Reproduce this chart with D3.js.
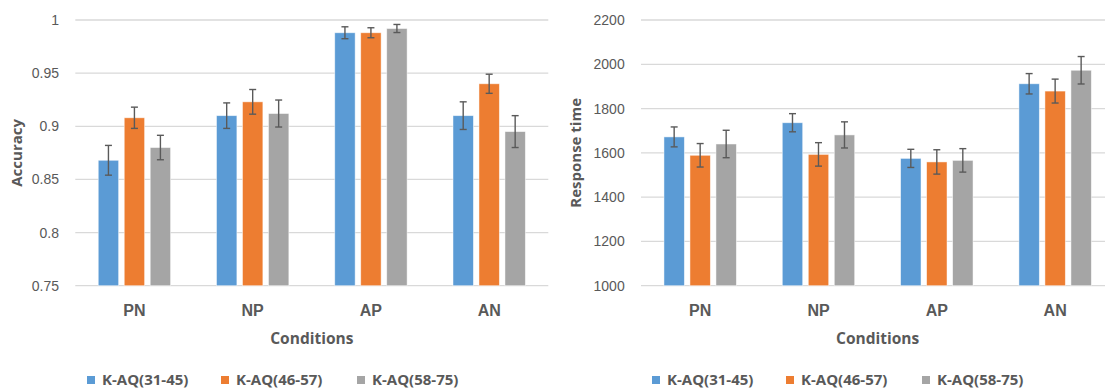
<!DOCTYPE html>
<html>
<head>
<meta charset="utf-8">
<script src="https://cdn.jsdelivr.net/npm/d3@7"></script>
<style>
  html, body { margin: 0; padding: 0; background: #fff; }
  svg { display: block; font-family: "Open Sans", "Noto Sans", sans-serif; }
</style>
</head>
<body>
<svg id="chart" width="1105" height="391"></svg>
<script>
// ---------- data ----------
const categories = ["PN", "NP", "AP", "AN"];
const seriesNames = ["K-AQ(31-45)", "K-AQ(46-57)", "K-AQ(58-75)"];
const seriesColors = ["#5B9BD5", "#ED7D31", "#A5A5A5"];

const accMean31 = [0.868, 0.910, 0.988, 0.910];
const accMean46 = [0.908, 0.923, 0.988, 0.940];
const accMean58 = [0.880, 0.912, 0.992, 0.895];
const accErr31 = [0.014, 0.012, 0.0056, 0.013];
const accErr46 = [0.010, 0.0116, 0.0047, 0.009];
const accErr58 = [0.0115, 0.0127, 0.0038, 0.015];

const rtMean31 = [1672, 1736, 1575, 1912];
const rtMean46 = [1589, 1593, 1559, 1879];
const rtMean58 = [1640, 1681, 1566, 1973];
const rtErr31 = [45, 41, 41, 46];
const rtErr46 = [53, 53, 55, 54];
const rtErr58 = [62, 59, 53, 62];

const accTicks = [0.75, 0.8, 0.85, 0.9, 0.95, 1];
const accTickLabels = ["0.75", "0.8", "0.85", "0.9", "0.95", "1"];
const rtTicks = [1000, 1200, 1400, 1600, 1800, 2000, 2200];
const rtTickLabels = ["1000", "1200", "1400", "1600", "1800", "2000", "2200"];

const accTitle = "Accuracy";
const rtTitle = "Response time";
const xTitle = "Conditions";

// ---------- layout ----------
const svg = d3.select("#chart");
const textColor = "#595959";
const gridColor = "#D9D9D9";
const yTop = 20, yBottom = 285.7;

const panels = [
  {
    means: [accMean31, accMean46, accMean58],
    errs: [accErr31, accErr46, accErr58],
    domain: [0.75, 1], ticks: accTicks, tickLabels: accTickLabels,
    x0: 75.3, x1: 548.3, yTitle: accTitle, yTitleX: 17,
    legendX: 87
  },
  {
    means: [rtMean31, rtMean46, rtMean58],
    errs: [rtErr31, rtErr46, rtErr58],
    domain: [1000, 2200], ticks: rtTicks, tickLabels: rtTickLabels,
    x0: 641, x1: 1114.3, yTitle: rtTitle, yTitleX: 576,
    legendX: 652
  }
];

panels.forEach(p => {
  const g = svg.append("g");
  const x = d3.scaleBand().domain(categories).range([p.x0, p.x1]).padding(0);
  const groupW = x.bandwidth() * 0.612;
  const xs = d3.scaleBand().domain(d3.range(seriesNames.length))
    .range([-groupW / 2, groupW / 2]).paddingInner(0.215).paddingOuter(0);
  const y = d3.scaleLinear().domain(p.domain).range([yBottom, yTop]);

  // gridlines
  g.append("g").selectAll("line").data(p.ticks).join("line")
    .attr("x1", p.x0).attr("x2", p.x1)
    .attr("y1", d => y(d)).attr("y2", d => y(d))
    .attr("stroke", gridColor).attr("stroke-width", 1.3);

  // y axis labels
  const yAxis = d3.axisLeft(y).tickValues(p.ticks)
    .tickFormat((d, i) => p.tickLabels[i]).tickSize(0).tickPadding(16.3);
  const ya = g.append("g").attr("transform", `translate(${p.x0},0)`).call(yAxis);
  ya.select(".domain").remove();
  ya.selectAll("text").attr("fill", textColor).style("font-size", "14px");

  // bars
  p.means.forEach((arr, si) => {
    const sg = g.append("g");
    sg.selectAll("rect").data(arr).join("rect")
      .attr("x", (d, i) => x(categories[i]) + x.bandwidth() / 2 + xs(si))
      .attr("width", xs.bandwidth())
      .attr("y", d => y(d))
      .attr("height", d => yBottom - y(d))
      .attr("fill", seriesColors[si])
      .attr("stroke", "#ffffff").attr("stroke-opacity", 0.6).attr("stroke-width", 0.8);
  });

  // error bars
  p.means.forEach((arr, si) => {
    const errs = p.errs[si];
    const eg = g.append("g").attr("stroke", "#5a5a5a").attr("stroke-width", 1.4);
    arr.forEach((m, i) => {
      const cx = x(categories[i]) + x.bandwidth() / 2 + xs(si) + xs.bandwidth() / 2;
      const yt = y(m + errs[i]), yb = y(m - errs[i]);
      eg.append("line").attr("x1", cx).attr("x2", cx).attr("y1", yt).attr("y2", yb);
      eg.append("line").attr("x1", cx - 3.5).attr("x2", cx + 3.5).attr("y1", yt).attr("y2", yt);
      eg.append("line").attr("x1", cx - 3.5).attr("x2", cx + 3.5).attr("y1", yb).attr("y2", yb);
    });
  });

  // x axis labels
  const xAxis = d3.axisBottom(x).tickSize(0);
  const xa = g.append("g").attr("transform", `translate(0,${yBottom})`).call(xAxis);
  xa.select(".domain").remove();
  xa.selectAll("text").attr("y", 24.3).attr("dy", "0.36em")
    .attr("fill", textColor).style("font-size", "16px").style("font-weight", "bold");

  // x title
  g.append("text").attr("x", (p.x0 + p.x1) / 2).attr("y", 338.3).attr("dy", "0.36em")
    .attr("text-anchor", "middle").attr("fill", textColor)
    .style("font-size", "15.5px").style("font-weight", "bold").text(xTitle);

  // y title
  g.append("text")
    .attr("transform", `translate(${p.yTitleX},${(yTop + yBottom) / 2}) rotate(-90)`)
    .attr("dy", "0.36em").attr("text-anchor", "middle").attr("fill", textColor)
    .style("font-size", "15px").style("font-weight", "bold").text(p.yTitle);

  // legend
  const lg = g.append("g").attr("transform", `translate(${p.legendX},380)`);
  const offsets = [0, 134, 270];
  seriesNames.forEach((name, si) => {
    const item = lg.append("g").attr("transform", `translate(${offsets[si]},0)`);
    item.append("rect").attr("x", 0).attr("y", -4).attr("width", 8).attr("height", 8)
      .attr("fill", seriesColors[si]);
    item.append("text").attr("x", 15).attr("dy", "0.36em").attr("fill", textColor)
      .style("font-size", "15px").style("font-weight", "bold").text(name);
  });
});
</script>
</body>
</html>
